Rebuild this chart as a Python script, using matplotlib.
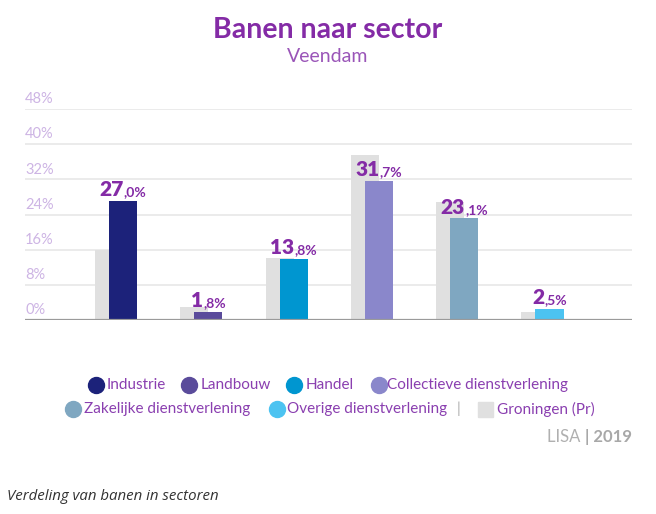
import matplotlib.pyplot as plt
from matplotlib.lines import Line2D
from matplotlib.patches import Rectangle
import matplotlib.transforms as mtransforms

plt.rcParams['font.family'] = ['Lato', 'DejaVu Sans']

# data
sectoren = ['Industrie', 'Landbouw', 'Handel', 'Collectieve dienstverlening',
            'Zakelijke dienstverlening', 'Overige dienstverlening']
veendam = [27.0, 1.8, 13.8, 31.7, 23.1, 2.5]
groningen = [15.9, 3.0, 14.1, 37.6, 26.9, 1.9]
kleuren = ['#1c227a', '#5a4b9b', '#0096d0', '#8a87cb', '#7fa7c1', '#4cc3f1']
grijs = '#e0e0e0'
y_ticks = [0, 8, 16, 24, 32, 40, 48]

paars = '#842ba6'
W, H = 656, 514
fig = plt.figure(figsize=(W / 100, H / 100), dpi=100)

def fx(px):
    return px / W

def fy(py):
    return 1 - py / H

ax = fig.add_axes([fx(25), fy(320), fx(632) - fx(25), fy(109) - fy(320)])
x = list(range(len(sectoren)))
bw = 0.33
ax.bar([i - 0.082 for i in x], groningen, width=bw, color=grijs, zorder=2)
ax.bar([i + 0.082 for i in x], veendam, width=bw, color=kleuren, zorder=3)
ax.set_xlim(-1.067, 6.05)
ax.set_ylim(0, 48)
for s in ax.spines.values():
    s.set_visible(False)
ax.set_xticks([])
ax.set_yticks([])
for t in y_ticks[1:]:
    ax.axhline(t, color='#e8e8e8', lw=1.2, zorder=1)
ax.axhline(0, color='#9a9a9a', lw=1.6, zorder=4)

trans = mtransforms.blended_transform_factory(ax.transAxes, ax.transData)
for t in y_ticks:
    ax.annotate(f'{t}%', xy=(0, t), xycoords=trans, xytext=(0, 2),
                textcoords='offset points', ha='left', va='bottom',
                fontsize=10.5, color='#cdb4e4')

# value labels: big integer part + small decimal part
labels = []
for i, v in enumerate(veendam):
    s = f'{v:.1f}'.replace('.', ',')
    heel, rest = s.split(',')
    t1 = ax.annotate(heel, xy=(i + 0.082, v), xytext=(0, 3), textcoords='offset points',
                     ha='left', va='baseline', fontsize=15, fontweight='heavy', color=paars, zorder=5)
    t2 = ax.annotate(',' + rest + '%', xy=(i + 0.082, v), xytext=(0, 3), textcoords='offset points',
                     ha='left', va='baseline', fontsize=10, fontweight='bold', color=paars, zorder=5)
    labels.append((t1, t2))

fig.text(0.5, fy(30), 'Banen naar sector', ha='center', va='center',
         fontsize=20.5, fontweight='bold', color=paars)
fig.text(0.5, fy(57), 'Veendam', ha='center', va='center', fontsize=14, color='#9a55b8')

# legend
leg_rows = [
    [(96, 107, 0), (189, 201, 1), (294, 306, 2), (379, 387, 3)],
    [(73, 84, 4), (277, 287, 5)],
]
rij_y = [385, 409]
for row, py in zip(leg_rows, rij_y):
    for cx, tx, k in row:
        fig.add_artist(Line2D([fx(cx)], [fy(py)], marker='o', markersize=11.5,
                              color=kleuren[k], transform=fig.transFigure))
        fig.text(fx(tx), fy(py), sectoren[k], ha='left', va='center',
                 fontsize=11, color='#8a3fb0')
fig.text(fx(459), fy(409), '|', ha='center', va='center', fontsize=11, color='#aaaaaa')
fig.add_artist(Rectangle((fx(478), fy(417)), fx(15), fy(402) - fy(417), color=grijs,
                         transform=fig.transFigure))
fig.text(fx(497), fy(409), 'Groningen (Pr)', ha='left', va='center', fontsize=11, color='#8a3fb0')

lisa = fig.text(0, fy(437), 'LISA ', ha='left', va='center', fontsize=12, color='#b0b0b0')
jaar = fig.text(0, fy(437), '| 2019', ha='left', va='center', fontsize=12,
                fontweight='bold', color='#a8a8a8')

fig.text(fx(7), fy(497), 'Verdeling van banen in sectoren', ha='left', va='center',
         fontsize=10.8, style='italic', color='#333333', family=['Open Sans', 'DejaVu Sans'])

fig.canvas.draw()
r = fig.canvas.get_renderer()
for t1, t2 in labels:
    w1 = t1.get_window_extent(r).width
    w2 = t2.get_window_extent(r).width
    start = -(w1 + w2) / 2
    t1.xyann = (start * 72 / 100, 3.5)
    t2.xyann = ((start + w1) * 72 / 100, 3.5)

w_lisa = lisa.get_window_extent(r).width
w_jaar = jaar.get_window_extent(r).width
lisa.set_x(fx(632 - w_lisa - w_jaar))
jaar.set_x(fx(632 - w_jaar))

fig.savefig('out.png', dpi=100)
